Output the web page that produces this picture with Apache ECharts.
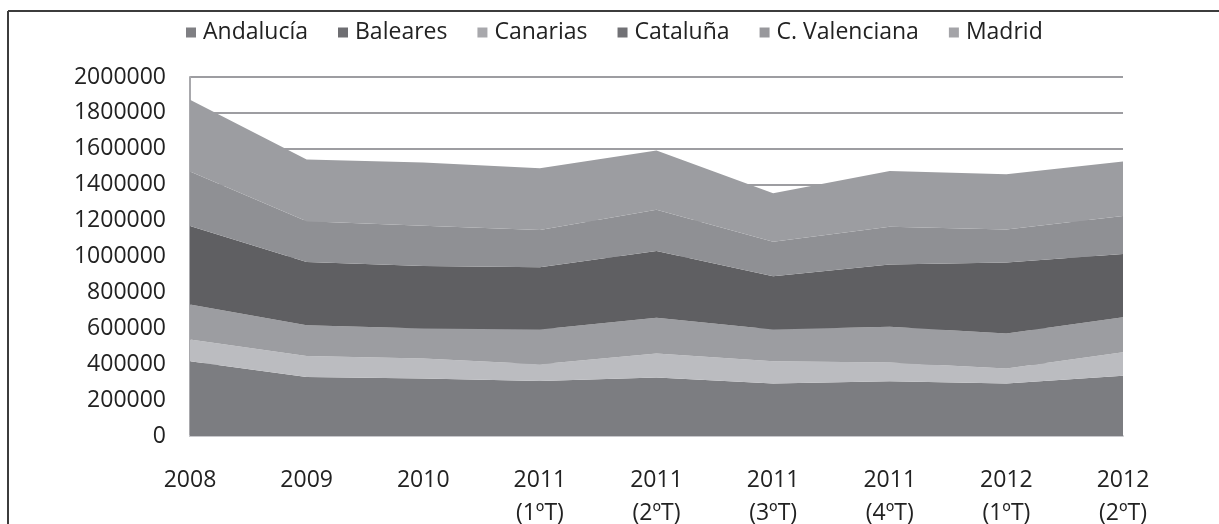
<!DOCTYPE html>
<html>
<head>
<meta charset="utf-8">
<script src="https://cdn.jsdelivr.net/npm/echarts@6/dist/echarts.min.js"></script>
<style>
html,body{margin:0;padding:0;background:#fff;}
#chart{width:1219px;height:524px;}
</style>
</head>
<body>
<div id="chart"></div>
<script>
const categories = ['2008', '2009', '2010', '2011\n(1ºT)', '2011\n(2ºT)', '2011\n(3ºT)', '2011\n(4ºT)', '2012\n(1ºT)', '2012\n(2ºT)'];
const seriesNames = ['Andalucía', 'Baleares', 'Canarias', 'Cataluña', 'C. Valenciana', 'Madrid'];
const andalucia = [417000, 329000, 320000, 307000, 326000, 292000, 305000, 292000, 335000];
const baleares = [121000, 117000, 112000, 93000, 134000, 124000, 104000, 84000, 131000];
const canarias = [195000, 171000, 167000, 194000, 199000, 177000, 199000, 195000, 195000];
const cataluna = [437000, 353000, 348000, 346000, 372000, 297000, 348000, 396000, 353000];
const valenciana = [303000, 227000, 225000, 208000, 229000, 192000, 210000, 184000, 212000];
const madrid = [400000, 344000, 352000, 344000, 331000, 270000, 311000, 307000, 303000];
const yTicks = { min: 0, max: 2000000, interval: 200000 };

const values = [andalucia, baleares, canarias, cataluna, valenciana, madrid];
const areaColors = ['#7c7d81', '#bbbcc0', '#9c9da1', '#5f5f62', '#8f9094', '#9c9da1'];
const legendColors = ['#7f7f83', '#6e6e72', '#a8a8ac', '#717175', '#98989c', '#a4a4a8'];
const FONT = '"Open Sans", "Noto Sans", sans-serif';

const chart = echarts.init(document.getElementById('chart'), null, { renderer: 'canvas' });
chart.setOption({
  animation: false,
  backgroundColor: '#ffffff',
  textStyle: { fontFamily: FONT },
  graphic: [
    { type: 'line', shape: { x1: 8, y1: 11, x2: 1219, y2: 11 }, style: { stroke: '#3c3c3c', lineWidth: 2 }, z: 100 },
    { type: 'line', shape: { x1: 8, y1: 11, x2: 8, y2: 524 }, style: { stroke: '#3c3c3c', lineWidth: 2 }, z: 100 }
  ],
  legend: {
    left: 181,
    top: 16,
    icon: 'rect',
    itemWidth: 10,
    itemHeight: 10,
    itemGap: 30,
    textStyle: { fontFamily: FONT, fontSize: 23, color: '#222', padding: [0, 0, 0, 2] },
    data: seriesNames.map((n, i) => ({ name: n, itemStyle: { color: legendColors[i] } }))
  },
  grid: { left: 190, right: 96, top: 77, bottom: 88, containLabel: false, outerBoundsMode: 'none' },
  xAxis: {
    type: 'category',
    boundaryGap: false,
    data: categories,
    axisLine: { show: true, lineStyle: { color: '#c8c8cc', width: 2 } },
    axisTick: { show: false },
    axisLabel: { fontFamily: FONT, fontSize: 23, color: '#222', margin: 28, lineHeight: 33, interval: 0 },
    splitLine: { show: false }
  },
  yAxis: {
    type: 'value',
    min: yTicks.min,
    max: yTicks.max,
    interval: yTicks.interval,
    axisLine: { show: true, lineStyle: { color: '#a8a8ac', width: 2 } },
    axisTick: { show: false },
    axisLabel: { fontFamily: FONT, fontSize: 23, color: '#222', margin: 24, formatter: v => String(v) },
    splitLine: { show: true, lineStyle: { color: '#9d9da1', width: 2 } }
  },
  series: seriesNames.map((n, i) => ({
    name: n,
    type: 'line',
    stack: 'total',
    data: values[i],
    symbol: 'none',
    showSymbol: false,
    color: areaColors[i],
    lineStyle: { width: 0, color: areaColors[i] },
    areaStyle: { color: areaColors[i], opacity: 1 },
    emphasis: { disabled: true }
  }))
});
</script>
</body>
</html>
